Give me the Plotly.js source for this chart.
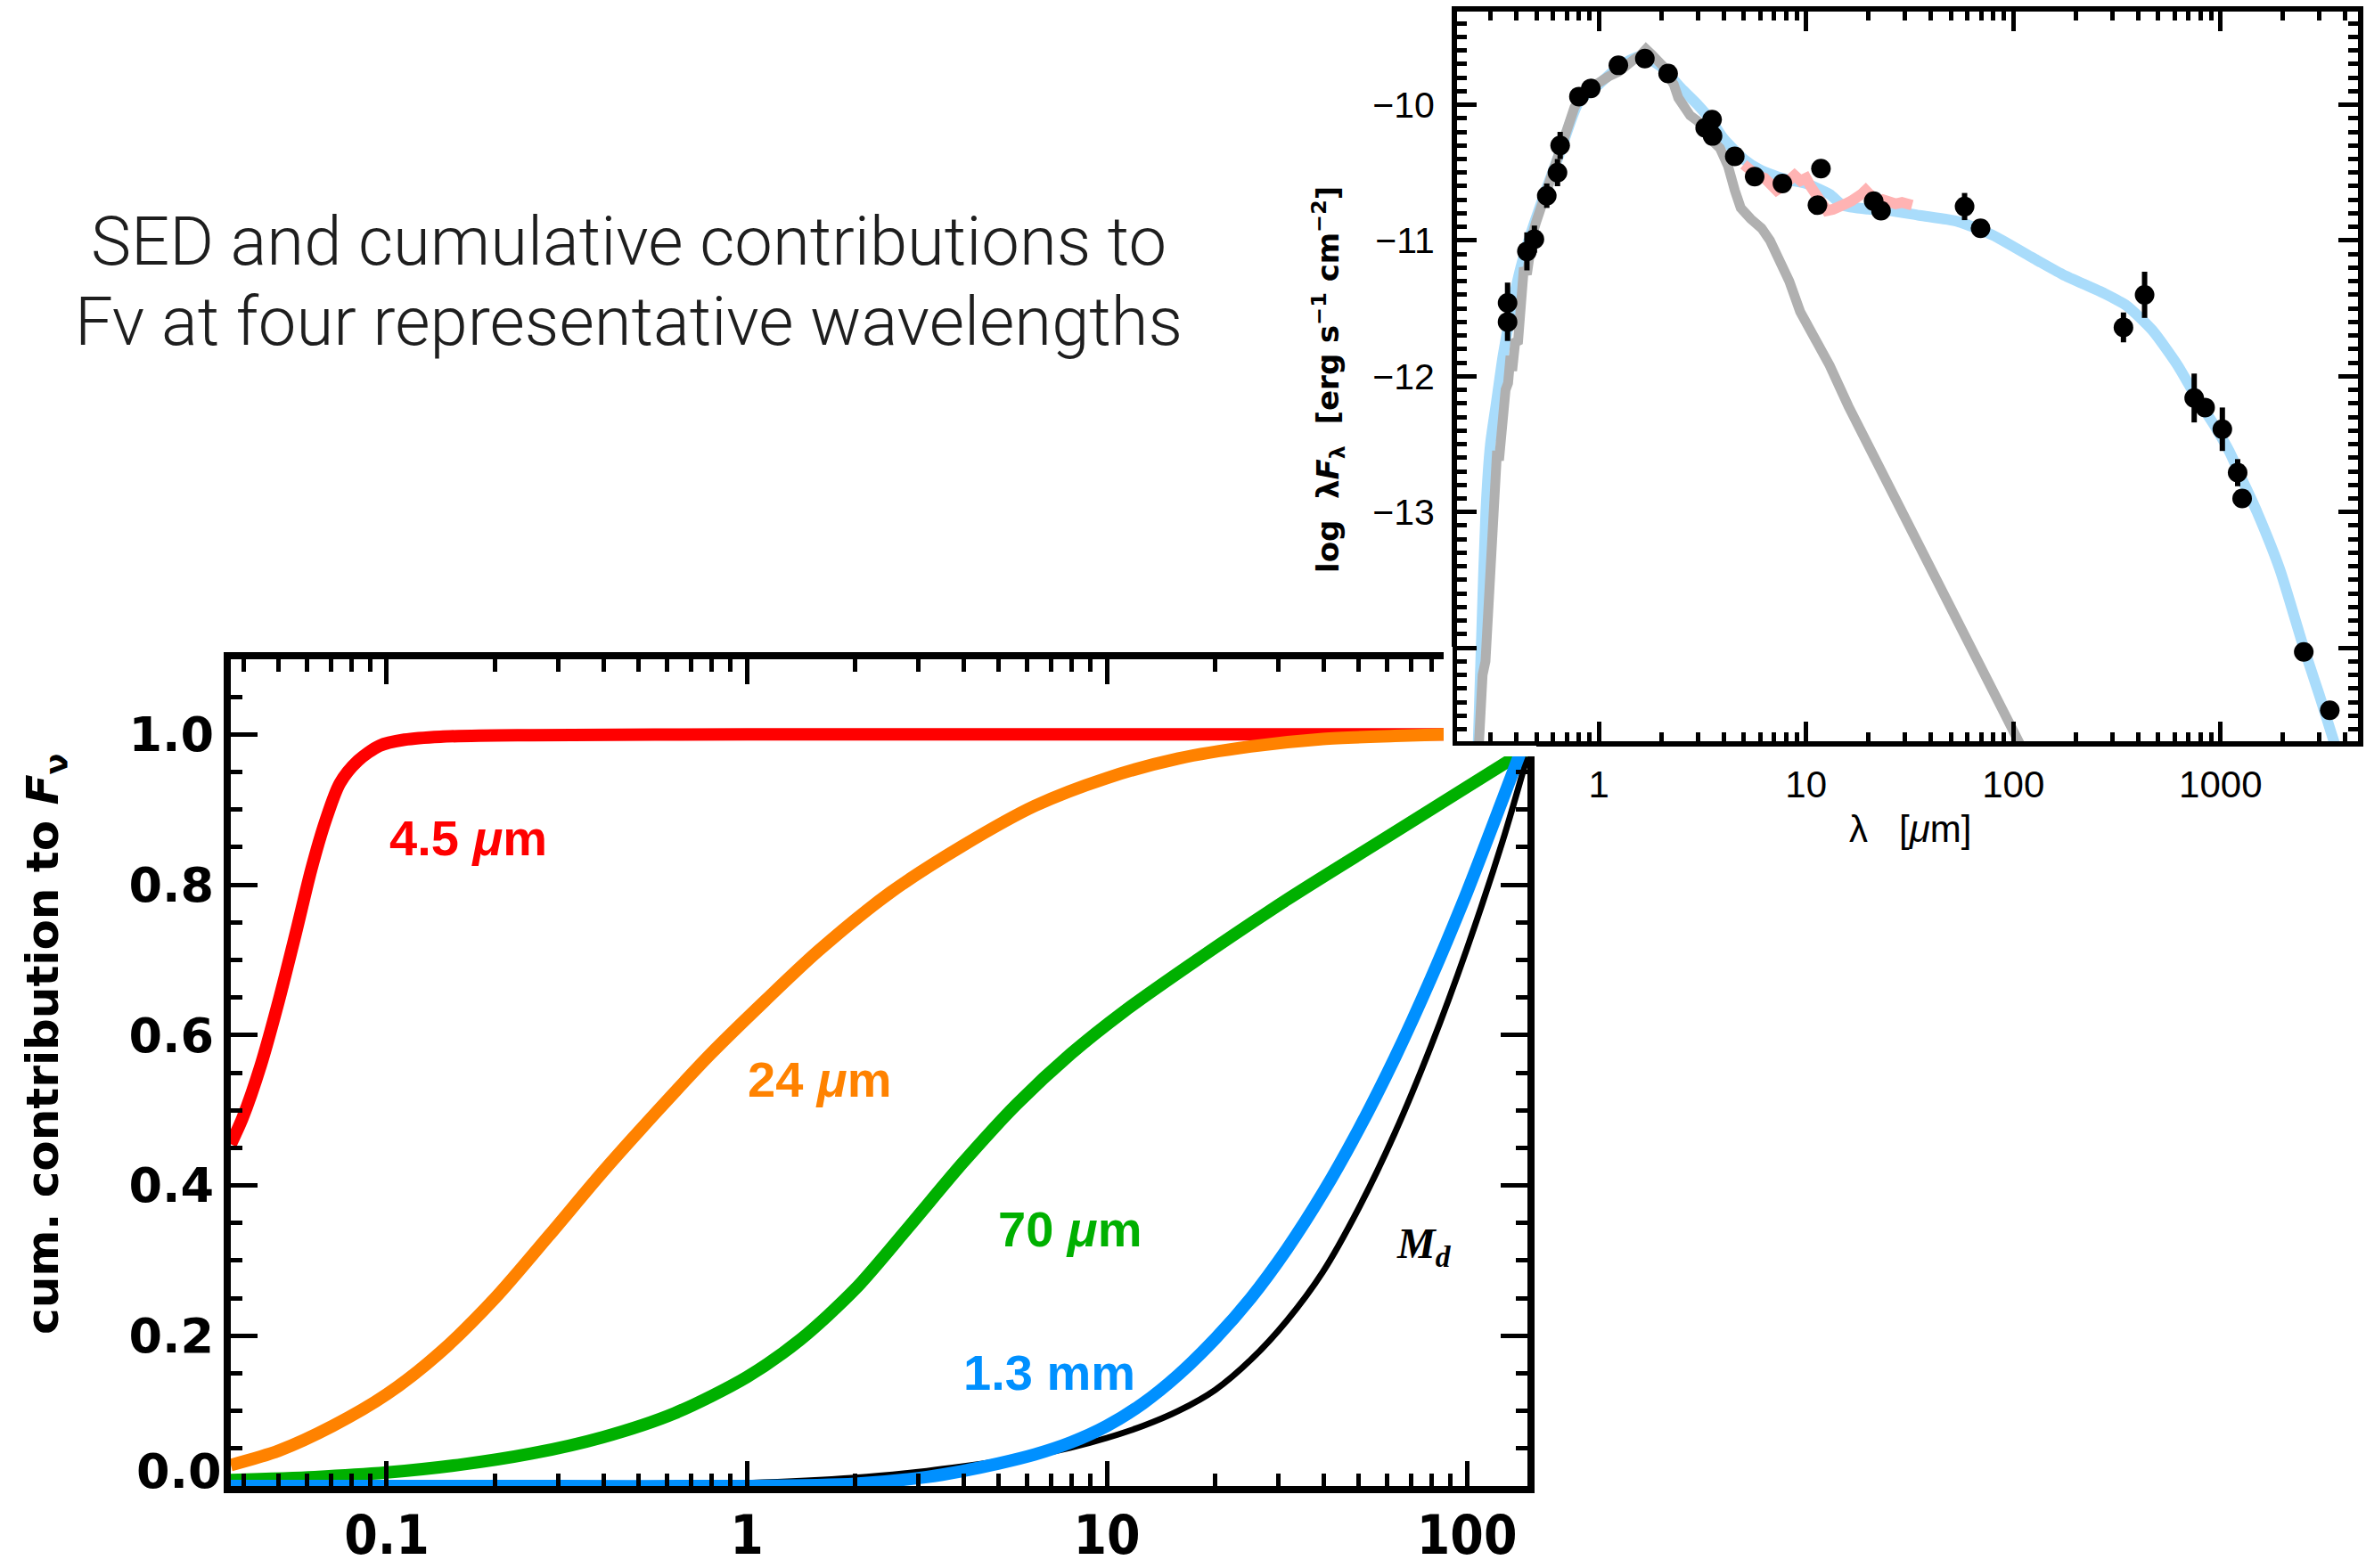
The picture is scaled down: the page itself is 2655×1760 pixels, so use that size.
<!DOCTYPE html>
<html>
<head>
<meta charset="utf-8">
<script src="https://cdn.plot.ly/plotly-3.0.1.min.js"></script>
<style>
  html, body { margin: 0; padding: 0; background: #ffffff; }
  #chart { width: 2655px; height: 1760px; }
</style>
</head>
<body>
<div id="chart"></div>
<script>
// ---------- SED panel: photometry, model, photosphere, IRS spectrum ----------
const photLam = [0.363, 0.363, 0.450, 0.489, 0.561, 0.632, 0.651, 0.802, 0.915, 1.243, 1.668, 2.16,
                 3.52, 3.26, 3.54, 4.53, 5.65, 7.69, 11.8, 11.35, 21.2, 23.0, 58.2, 69.5,
                 340, 430, 746, 842, 1020, 1209, 1271, 2520, 3365];
const photVal = [-11.46, -11.60, -11.08, -10.99, -10.67, -10.50, -10.30, -9.94, -9.88, -9.71, -9.66, -9.77,
                 -10.11, -10.17, -10.23, -10.38, -10.53, -10.58, -10.47, -10.74, -10.71, -10.78, -10.75, -10.91,
                 -11.64, -11.40, -12.16, -12.23, -12.39, -12.71, -12.90, -14.03, -14.46];
const photErr = [0.15, 0.14, 0.14, 0.10, 0.09, 0.10, 0.10, 0, 0, 0, 0, 0,
                 0, 0, 0, 0, 0, 0, 0, 0, 0, 0, 0.10, 0,
                 0.11, 0.17, 0.18, 0, 0.16, 0.10, 0, 0, 0];

const modelLam = [0.255, 0.262, 0.272, 0.285, 0.30, 0.32, 0.345, 0.38, 0.42, 0.47, 0.55, 0.65, 0.8, 1.0,
                  1.25, 1.6, 2.0, 2.5, 3.0, 3.5, 4.0, 5.0, 6.0, 8.0, 10, 13, 15, 20, 25.6, 35.2, 53.9,
                  79.4, 121.6, 173, 275, 352, 468, 621, 767, 950, 1100, 1271, 1500, 1929, 2520, 3000, 3523, 3900];
const modelVal = [-15.2, -14.69, -13.9, -13.0, -12.5, -12.2, -11.85, -11.5, -11.2, -10.95, -10.65, -10.35, -9.98, -9.85,
                  -9.72, -9.64, -9.72, -9.88, -10.0, -10.12, -10.25, -10.40, -10.48, -10.55, -10.58, -10.66, -10.74, -10.77,
                  -10.78, -10.815, -10.86, -10.96, -11.12, -11.25, -11.39, -11.48, -11.66, -11.92, -12.16, -12.38,
                  -12.55, -12.76, -13.00, -13.42, -14.00, -14.35, -14.69, -14.9];

const starLam = [0.258, 0.265, 0.275, 0.284, 0.293, 0.300, 0.308, 0.315, 0.323, 0.330, 0.338, 0.346, 0.355,
                 0.365, 0.375, 0.382, 0.395, 0.408, 0.42, 0.435, 0.45, 0.465, 0.48, 0.497, 0.515, 0.53, 0.548,
                 0.57, 0.6, 0.626, 0.66, 0.692, 0.73, 0.763, 0.81, 0.871, 0.95, 1.03, 1.12, 1.25, 1.36, 1.48,
                 1.58, 1.69, 1.8, 1.92, 2.05, 2.19, 2.3, 2.42, 2.6, 2.76, 3.0, 3.26, 3.5, 3.84, 4.2, 4.53, 4.84,
                 5.4, 6.1, 6.7, 7.4, 8.3, 9.37, 11.0, 13.0, 16.0, 20.0, 30, 50, 80, 120];
const starVal = [-15.0, -14.45, -14.2, -14.1, -13.7, -13.45, -13.17, -12.95, -12.55, -12.62, -12.35, -12.29, -12.10,
                 -12.05, -11.85, -11.96, -11.75, -11.74, -11.45, -11.20, -11.25, -11.02, -10.95, -10.87, -10.80, -10.72, -10.65,
                 -10.62, -10.50, -10.43, -10.33, -10.19, -10.10, -10.02, -9.95, -9.885, -9.86, -9.82, -9.79, -9.755, -9.70, -9.667,
                 -9.64, -9.59, -9.63, -9.667, -9.72, -9.80, -9.85, -9.95, -10.02, -10.08, -10.12, -10.21, -10.26, -10.32, -10.45, -10.63, -10.76,
                 -10.84, -10.91, -11.00, -11.13, -11.30, -11.525, -11.72, -11.92, -12.22, -12.51, -13.05, -13.70, -14.32, -14.85];

const irsLam = [5.0, 5.4, 5.8, 6.3, 6.8, 7.2, 7.7, 8.2, 8.8, 9.4, 10.0, 10.5, 11.0, 11.5, 12.0, 12.6, 13.5, 14.4,
                15.5, 16.5, 17.5, 18.5, 19.4, 20.5, 22.1, 23.5, 25.2, 27, 29, 30.8, 32.5];
const irsVal = [-10.44, -10.49, -10.52, -10.54, -10.58, -10.63, -10.60, -10.55, -10.52, -10.56, -10.54, -10.60, -10.65,
                -10.70, -10.76, -10.78, -10.77, -10.76, -10.73, -10.71, -10.67, -10.66, -10.63, -10.68, -10.72, -10.70,
                -10.72, -10.73, -10.72, -10.74, -10.74];

// ---------- cumulative contribution panel (radius vs. cumulative fraction) ----------
const rad45 = [0.0369, 0.0398, 0.0447, 0.0501, 0.0562, 0.0617, 0.0676, 0.0741, 0.0832, 0.0955, 0.112, 0.141, 0.251, 1, 10, 88];
const cum45 = [0.455, 0.49, 0.56, 0.645, 0.74, 0.82, 0.885, 0.935, 0.965, 0.985, 0.993, 0.997, 0.999, 1.0, 1.0, 1.0];

const rad24 = [0.0369, 0.0501, 0.0708, 0.1, 0.141, 0.2, 0.282, 0.398, 0.562, 0.794, 1.12, 1.58, 2.51, 3.98,
               6.31, 10, 15.8, 25.1, 39.8, 63.1, 88];
const cum24 = [0.028, 0.047, 0.08, 0.122, 0.178, 0.25, 0.333, 0.418, 0.498, 0.575, 0.645, 0.712, 0.79, 0.852,
               0.905, 0.942, 0.968, 0.984, 0.994, 0.998, 1.0];

const rad70 = [0.0369, 0.0631, 0.1, 0.158, 0.251, 0.398, 0.631, 1.0, 1.41, 2.0, 2.82, 3.98, 5.62, 7.94,
               11.2, 17.8, 31.6, 56.2, 100, 147];
const cum70 = [0.008, 0.012, 0.018, 0.028, 0.043, 0.065, 0.097, 0.145, 0.195, 0.262, 0.345, 0.43, 0.508, 0.575,
               0.632, 0.70, 0.78, 0.855, 0.93, 0.98];

const rad13 = [0.0369, 0.3, 1.0, 2.0, 3.16, 3.98, 5.01, 6.31, 7.94, 10.0, 12.6, 15.8, 20.0, 25.1, 31.6, 39.8,
               50.1, 63.1, 79.4, 100, 126, 147];
const cum13 = [0.0, 0.0, 0.0, 0.003, 0.012, 0.02, 0.03, 0.042, 0.058, 0.08, 0.11, 0.148, 0.196, 0.25, 0.315,
               0.39, 0.475, 0.57, 0.675, 0.79, 0.915, 1.0];

const radMd = [0.0369, 0.316, 1.0, 2.0, 3.16, 3.98, 5.01, 6.31, 7.94, 10.0, 12.6, 15.8, 20.0, 25.1, 31.6, 39.8,
               50.1, 63.1, 79.4, 100, 126, 147];
const cumMd = [0.0, 0.0, 0.004, 0.011, 0.02, 0.026, 0.033, 0.041, 0.051, 0.064, 0.08, 0.10, 0.128, 0.168, 0.22,
               0.285, 0.37, 0.47, 0.585, 0.715, 0.86, 0.97];

const cdfTickVals = [0.1, 1, 10, 100];
const cdfTickText = ['0.1', '1', '10', '100'];
const cdfYVals = [0, 0.2, 0.4, 0.6, 0.8, 1.0];
const cdfYText = ['', '0.2', '0.4', '0.6', '0.8', '1.0'];
const sedXVals = [1, 10, 100, 1000];
const sedXText = ['1', '10', '100', '1000'];
const sedYVals = [-14, -13, -12, -11, -10];
const sedYText = ['', '\u221213', '\u221212', '\u221211', '\u221210'];

// ---------- page geometry helpers (pixels -> paper fractions) ----------
const W = 2655, H = 1760;
const px = x => x / W;
const py = y => 1 - y / H;

function logMinorTicks(d0, d1) {
  const out = [];
  for (let d = d0; d <= d1; d++) {
    for (let k = 2; k <= 9; k++) out.push(k * Math.pow(10, d));
  }
  return out;
}

const axisBase = {
  showgrid: false, zeroline: false, showline: true, linecolor: '#000',
  mirror: 'ticks', ticks: 'inside', tickcolor: '#000'
};

const cdfLine = (c, w) => ({ color: c, width: w, shape: 'spline', smoothing: 0.8 });

const traces = [
  // cumulative curves
  { x: rad45, y: cum45, xaxis: 'x', yaxis: 'y', mode: 'lines', line: cdfLine('#ff0000', 14) },
  { x: rad24, y: cum24, xaxis: 'x', yaxis: 'y', mode: 'lines', line: cdfLine('#ff8200', 14) },
  { x: rad70, y: cum70, xaxis: 'x', yaxis: 'y', mode: 'lines', line: cdfLine('#00b000', 14) },
  { x: radMd, y: cumMd, xaxis: 'x', yaxis: 'y', mode: 'lines', line: cdfLine('#000000', 7) },
  { x: rad13, y: cum13, xaxis: 'x', yaxis: 'y', mode: 'lines', line: cdfLine('#0090ff', 14) },
  // SED
  { x: modelLam, y: modelVal, xaxis: 'x2', yaxis: 'y2', mode: 'lines',
    line: { color: '#a9dcfb', width: 12, shape: 'spline', smoothing: 0.6 } },
  { x: irsLam, y: irsVal, xaxis: 'x2', yaxis: 'y2', mode: 'lines',
    line: { color: '#ffb3b3', width: 12 } },
  { x: starLam, y: starVal, xaxis: 'x2', yaxis: 'y2', mode: 'lines',
    line: { color: '#b0b0b0', width: 11 } },
  { x: photLam, y: photVal, xaxis: 'x2', yaxis: 'y2', mode: 'markers',
    marker: { color: '#000', size: 22 },
    error_y: { type: 'data', array: photErr, visible: true, color: '#000', thickness: 6, width: 0 } }
];

const labelFont = (c, s) => ({ family: 'Liberation Sans, Arial, sans-serif', size: s, color: c, weight: 'bold' });
const note = (text, x, y, font, extra) => Object.assign({
  text: text, x: px(x), y: py(y), xref: 'paper', yref: 'paper', showarrow: false,
  xanchor: 'center', yanchor: 'middle', font: font
}, extra || {});
const titleFont = { family: 'Roboto, Lato, sans-serif', size: 76, color: '#1e1e1e', weight: 300 };

const annotations = [
  note('SED and cumulative contributions to', 706, 271, titleFont),
  note('Fv at four representative wavelengths', 706, 361, titleFont),
  note('4.5 <i>\u03bc</i>m', 525, 940, labelFont('#ff0000', 56)),
  note('24 <i>\u03bc</i>m', 919, 1211, labelFont('#ff8200', 56)),
  note('70 <i>\u03bc</i>m', 1200, 1379, labelFont('#00b000', 56)),
  note('1.3 mm', 1177, 1540, labelFont('#0090ff', 56)),
  note('<b><i>M</i></b><sub><b><i>d</i></b></sub>', 1598, 1399,
       { family: 'Liberation Serif, serif', size: 48, color: '#000' }),
  note('0.0', 251, 1651, { family: 'DejaVu Sans, sans-serif', size: 54, color: '#000', weight: 'bold' },
       { xanchor: 'right' }),
  note('cum. contribution to <i>F</i><sub>\u03bd</sub>', 51, 1172,
       { family: 'DejaVu Sans, sans-serif', size: 50, color: '#000', weight: 'bold' }, { textangle: -90 }),
  note('log  \u03bb<i>F</i><sub>\u03bb</sub>  [erg s<sup>\u22121</sup> cm<sup>\u22122</sup>]', 1490, 426,
       { family: 'DejaVu Sans, sans-serif', size: 34, color: '#000', weight: 'bold' }, { textangle: -90 }),
  note('\u03bb   [<i>\u03bc</i>m]', 2143, 930, { family: 'Liberation Sans, sans-serif', size: 42, color: '#000' })
];

const layout = {
  width: W, height: H,
  margin: { l: 0, r: 0, t: 0, b: 0, pad: 0 },
  paper_bgcolor: '#ffffff', plot_bgcolor: '#ffffff',
  showlegend: false,
  xaxis: Object.assign({}, axisBase, {
    type: 'log', range: [-1.433, 2.168], domain: [px(259), px(1714)], anchor: 'y',
    linewidth: 8, ticklen: 28, tickwidth: 5,
    tickmode: 'array', tickvals: cdfTickVals, ticktext: cdfTickText,
    tickfont: { family: 'Liberation Sans Narrow, DejaVu Sans Condensed, Liberation Sans, sans-serif', size: 60, color: '#000', weight: 'bold' },
    ticklabelstandoff: -4,
    minor: { tickmode: 'array', tickvals: logMinorTicks(-2, 2), ticks: 'inside', ticklen: 14, tickwidth: 5, tickcolor: '#000' }
  }),
  yaxis: Object.assign({}, axisBase, {
    range: [0, 1.1], domain: [py(1668), py(740)], anchor: 'x',
    linewidth: 8, ticklen: 30, tickwidth: 5,
    tickmode: 'array', tickvals: cdfYVals, ticktext: cdfYText,
    tickfont: { family: 'DejaVu Sans, sans-serif', size: 54, color: '#000', weight: 'bold' },
    ticklabelstandoff: 0,
    minor: { tickmode: 'linear', tick0: 0, dtick: 0.05, ticks: 'inside', ticklen: 13, tickwidth: 5, tickcolor: '#000' }
  }),
  xaxis2: Object.assign({}, axisBase, {
    type: 'log', range: [-0.684, 3.663], domain: [px(1635), px(2646)], anchor: 'y2',
    linewidth: 6, ticklen: 22, tickwidth: 5,
    tickmode: 'array', tickvals: sedXVals, ticktext: sedXText,
    tickfont: { family: 'Liberation Sans, sans-serif', size: 42, color: '#000' },
    ticklabelstandoff: 7,
    minor: { tickmode: 'array', tickvals: logMinorTicks(-1, 3), ticks: 'inside', ticklen: 10, tickwidth: 5, tickcolor: '#000' }
  }),
  yaxis2: Object.assign({}, axisBase, {
    range: [-14.688, -9.314], domain: [py(832), py(13)], anchor: 'x2',
    linewidth: 6, ticklen: 22, tickwidth: 5,
    tickmode: 'array', tickvals: sedYVals, ticktext: sedYText,
    tickfont: { family: 'Liberation Sans, sans-serif', size: 41, color: '#000' },
    ticklabelstandoff: 11,
    minor: { tickmode: 'linear', tick0: -10, dtick: 0.1, ticks: 'inside', ticklen: 11, tickwidth: 5, tickcolor: '#000' }
  }),
  annotations: annotations,
  shapes: [
    // white margin of the SED panel over the corner of the lower panel
    { type: 'rect', xref: 'paper', yref: 'paper', layer: 'above',
      x0: px(1620), x1: px(1630), y0: py(849), y1: py(726), fillcolor: '#ffffff', line: { width: 0 } },
    { type: 'rect', xref: 'paper', yref: 'paper', layer: 'above',
      x0: px(1620), x1: px(1724), y0: py(849), y1: py(837), fillcolor: '#ffffff', line: { width: 0 } }
  ]
};

Plotly.newPlot('chart', traces, layout, { staticPlot: true, displayModeBar: false });
</script>
</body>
</html>
